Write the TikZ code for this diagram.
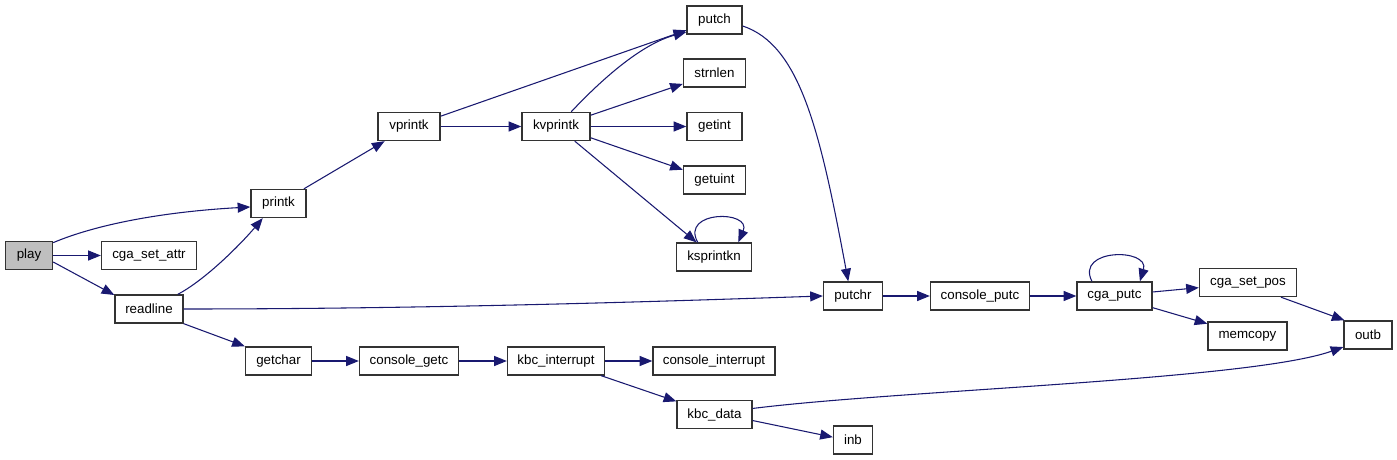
\documentclass[tikz,border=0pt]{standalone}
\usepackage{fontspec}
\setmainfont{Liberation Sans}
\usetikzlibrary{arrows.meta}
\definecolor{edgeblue}{HTML}{191970}
\definecolor{boxline}{HTML}{333333}
\definecolor{curfill}{HTML}{BFBFBF}
\tikzset{
  fn/.style={draw=boxline, line width=1pt, fill=white, inner sep=0pt,
    minimum height=21pt, minimum width=#1, font=\fontsize{10pt}{12pt}\selectfont, anchor=center},
  cur/.style={fill=curfill},
  call/.style={draw=edgeblue, line width=0.8pt, -{Triangle[length=9.5pt,width=7.5pt]}, edgeblue}
}
\begin{document}
\begin{tikzpicture}[x=0.75pt,y=-0.75pt]
\useasboundingbox (0,0) rectangle (1397,460);
% nodes
\node[fn=35.25pt,cur] (play) at (29,255.5) {play};
\node[fn=71.25pt] (setattr) at (149,255.5) {cga\_set\_attr};
\node[fn=51pt] (readline) at (149,309) {readline};
\node[fn=41.25pt] (printk) at (278.5,203.5) {printk};
\node[fn=46.5pt] (vprintk) at (409,126.5) {vprintk};
\node[fn=51pt] (kvprintk) at (556,126.5) {kvprintk};
\node[fn=41.25pt] (putch) at (714.5,20) {putch};
\node[fn=46.5pt] (strnlen) at (714.5,73) {strnlen};
\node[fn=41.25pt] (getint) at (714.5,126.5) {getint};
\node[fn=46.5pt] (getuint) at (714.5,180) {getuint};
\node[fn=56.25pt] (ksprintkn) at (714,257) {ksprintkn};
\node[fn=44.25pt] (putchr) at (853,296) {putchr};
\node[fn=74.25pt] (cputc) at (980,296) {console\_putc};
\node[fn=56.25pt] (cgaputc) at (1114.5,296) {cga\_putc};
\node[fn=72.75pt] (setpos) at (1248,282.5) {cga\_set\_pos};
\node[fn=59.25pt] (memcopy) at (1247.5,336) {memcopy};
\node[fn=36pt] (outb) at (1368,335) {outb};
\node[fn=49.5pt] (getchar) at (278.5,361) {getchar};
\node[fn=74.25pt] (cgetc) at (409,361) {console\_getc};
\node[fn=72.75pt] (kbcint) at (556,361) {kbc\_interrupt};
\node[fn=91.5pt] (cint) at (714,361) {console\_interrupt};
\node[fn=56.25pt] (kbcdata) at (714.5,414.5) {kbc\_data};
\node[fn=29.25pt] (inb) at (853,440) {inb};
% edges
\draw[call] (play.28) .. controls (95,225) and (160,212) .. (printk.187);
\draw[call] (play.east) -- (setattr.west);
\draw[call] (play.-15) -- (readline.158);
\draw[call] (readline.27) .. controls (205,280) and (240,245) .. (printk.223);
\draw[call] (readline.east) .. controls (450,309) and (700,300) .. (putchr.west);
\draw[call] (readline.south east) -- (getchar.north west);
\draw[call] (printk.30.6) -- (vprintk.211);
\draw[call] (vprintk.18.7) -- (putch.200);
\draw[call] (vprintk.east) -- (kvprintk.west);
\draw[call] (kvprintk.44) .. controls (603,78) and (642,44) .. (putch.203);
\draw[call] (kvprintk.18.7) -- (strnlen.199);
\draw[call] (kvprintk.east) -- (getint.west);
\draw[call] (kvprintk.-18.7) -- (getuint.162.4);
\draw[call] (kvprintk.-38.5) -- (ksprintkn.140.4);
\draw[call] (ksprintkn.138) .. controls (680,210) and (752,210) .. (ksprintkn.31);
\draw[call] (putch.-12.3) .. controls (800,45) and (820,130) .. (putchr.108);
\draw[call] (putchr.east) -- (cputc.west);
\draw[call] (cputc.east) -- (cgaputc.west);
\draw[call] (cgaputc.147) .. controls (1075,248) and (1150,248) .. (cgaputc.30.8);
\draw[call] (cgaputc.6.5) -- (setpos.186.4);
\draw[call] (cgaputc.-17.3) -- (memcopy.163);
\draw[call] (setpos.-24) -- (outb.148);
\draw[call] (kbcdata.9.8) .. controls (900,390) and (1250,380) .. (outb.206);
\draw[call] (getchar.east) -- (cgetc.west);
\draw[call] (cgetc.east) -- (kbcint.west);
\draw[call] (kbcint.east) -- (cint.west);
\draw[call] (kbcint.-18.4) -- (kbcdata.161);
\draw[call] (kbcdata.-9.8) -- (inb.172);
\end{tikzpicture}
\end{document}
